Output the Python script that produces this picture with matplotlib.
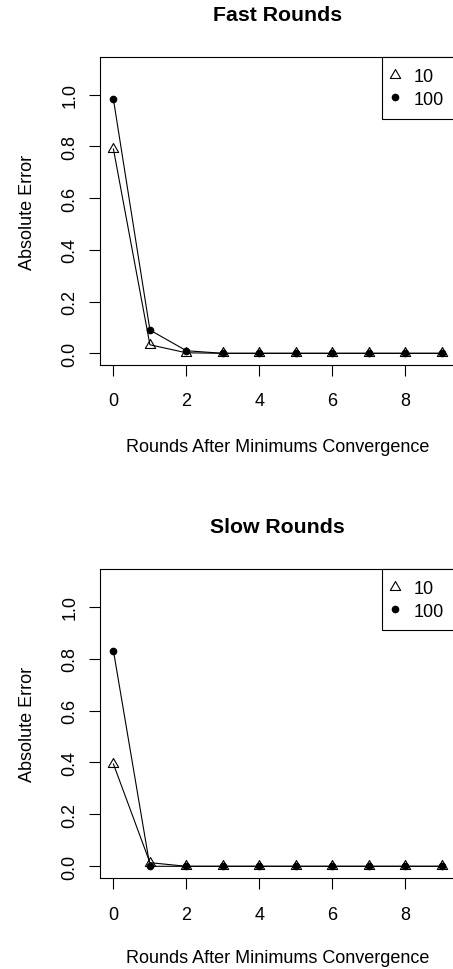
import numpy as np
import matplotlib.pyplot as plt
from matplotlib.path import Path
from matplotlib.lines import Line2D

# Absolute error per round after minimums convergence
rounds = np.arange(10)
fast_10 = [0.79, 0.033, 0.002, 0, 0, 0, 0, 0, 0, 0]
fast_100 = [0.982, 0.09, 0.01, 0, 0, 0, 0, 0, 0, 0]
slow_10 = [0.394, 0.014, 0, 0, 0, 0, 0, 0, 0, 0]
slow_100 = [0.83, 0.0, 0, 0, 0, 0, 0, 0, 0, 0]
labels = ['10', '100']

plt.rcParams['font.family'] = ['Liberation Sans', 'DejaVu Sans']
plt.rcParams['font.size'] = 13

# R style open triangle (pch=2), equilateral, centred on centroid
tri = Path([(0, 1), (-0.866, -0.5), (0.866, -0.5), (0, 1)],
           [Path.MOVETO, Path.LINETO, Path.LINETO, Path.CLOSEPOLY])

fig = plt.figure(figsize=(4.53, 9.70), dpi=100)

panels = [
  ('Fast Rounds', fast_10, fast_100, [0.2214, 0.6230, 0.7830, 0.3167], -0.2396),
  ('Slow Rounds', slow_10, slow_100, [0.2214, 0.0941, 0.7830, 0.3180], -0.2310),
]

for title, s10, s100, pos, xlab_y in panels:
  ax = fig.add_axes(pos)
  ax.plot(rounds, s10, color='black', lw=0.8, marker=tri, ms=8.6,
          mfc='none', mec='black', mew=0.8, clip_on=False)
  ax.plot(rounds, s100, color='black', lw=0.8, marker='o', ms=4.5,
          mfc='black', mec='black', clip_on=False)

  ax.set_xlim(-0.36, 9.36)
  ax.set_ylim(-0.044, 1.144)
  ax.set_xticks([0, 2, 4, 6, 8])
  yt = [0, 0.2, 0.4, 0.6, 0.8, 1.0]
  ax.set_yticks(yt)
  ax.set_yticklabels(['%.1f' % v for v in yt], rotation=90, va='center')
  ax.tick_params(axis='x', direction='out', length=8, width=0.8, pad=12)
  ax.tick_params(axis='y', direction='out', length=8, width=0.8, pad=7.6)
  for sp in ax.spines.values():
    sp.set_linewidth(0.8)

  ax.set_title(title, fontsize=15.3, fontweight='bold', pad=27)
  ax.set_xlabel('Rounds After Minimums Convergence')
  ax.xaxis.set_label_coords(0.5, xlab_y)
  ax.set_ylabel('Absolute Error')
  ax.yaxis.set_label_coords(-0.1826, 0.5)

  handles = [
    Line2D([], [], ls='none', marker=tri, ms=8.6, mfc='none', mec='black', mew=0.8),
    Line2D([], [], ls='none', marker='o', ms=4.5, mfc='black', mec='black'),
  ]
  leg = ax.legend(handles, labels, loc='upper right', borderaxespad=0,
                  fancybox=False, framealpha=1, edgecolor='black', fontsize=13,
                  borderpad=0.6, handlelength=0.3, handletextpad=0.88,
                  labelspacing=0.3)
  leg.get_frame().set_linewidth(0.8)

fig.savefig('out.png', dpi=100)
